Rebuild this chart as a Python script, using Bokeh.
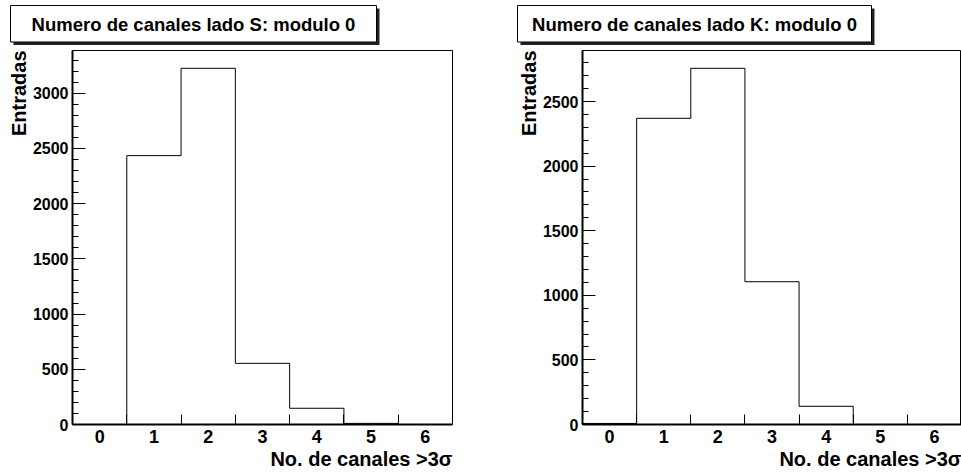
from bokeh.plotting import figure
from bokeh.layouts import row, column
from bokeh.models import Range1d, FixedTicker, SingleIntervalTicker, Title
from bokeh.core.properties import value
from bokeh.embed import file_html
from bokeh.resources import INLINE

# ---------------- data ----------------
bins = [0, 1, 2, 3, 4, 5, 6]
tick_labels = ["0", "1", "2", "3", "4", "5", "6"]
counts_s = [0, 2435, 3226, 554, 147, 10, 0]
counts_k = [8, 2370, 2757, 1105, 141, 0, 0]
title_s = "Numero de canales lado S: modulo 0"
title_k = "Numero de canales lado K: modulo 0"
xlabel = "No. de canales >3\u03c3"
ylabel = "Entradas"

FONT = "Liberation Sans"
TH = 46          # height of title strip
MH = 475 - TH    # height of main plots


def title_strip(width, title, box_l, box_r):
    t = figure(width=width, height=TH, output_backend="svg", toolbar_location=None,
               x_range=Range1d(0, width), y_range=Range1d(TH, 0),
               x_axis_type=None, y_axis_type=None, min_border=0)
    t.outline_line_color = None
    t.xgrid.visible = False
    t.ygrid.visible = False
    t.background_fill_color = "white"
    t.border_fill_color = "white"
    top, bot = 5, 41.5
    t.quad(left=[box_l + 3], right=[box_r + 3], top=[top + 3], bottom=[bot + 3],
           fill_color="#222222", line_color=None)
    t.quad(left=[box_l], right=[box_r], top=[top], bottom=[bot],
           fill_color="white", line_color="black", line_width=1)
    t.text(x=[(box_l + box_r) / 2], y=[(top + bot) / 2 + 1], text=[title],
           text_align="center", text_baseline="middle", text_font=value(FONT),
           text_font_style="bold", text_font_size="18.5px", text_color="black")
    return t


def make(counts, width, b_left, frame_w):
    ymax = max(counts) * 1.05
    p = figure(width=width, height=MH, output_backend="svg", toolbar_location=None,
               x_range=Range1d(-0.5, 6.5), y_range=Range1d(0, ymax),
               min_border_left=b_left, min_border_right=width - b_left - frame_w,
               min_border_top=50 - TH, min_border_bottom=MH - (50 - TH) - 374)
    p.background_fill_color = "white"
    p.border_fill_color = "white"
    p.outline_line_color = "black"
    p.outline_line_width = 1
    p.xgrid.visible = False
    p.ygrid.visible = False

    xa = p.xaxis[0]
    xa.ticker = FixedTicker(ticks=bins, minor_ticks=[b + 0.5 for b in bins[:-1]])
    xa.major_label_overrides = {b: t for b, t in zip(bins, tick_labels)}
    xa.major_tick_in = 0
    xa.major_tick_out = 0
    xa.minor_tick_in = 10
    xa.minor_tick_out = 0
    xa.minor_tick_line_color = "black"
    xa.axis_line_width = 2
    xa.axis_line_color = "black"
    xa.major_label_standoff = 5
    xa.major_label_text_font = FONT
    xa.major_label_text_font_style = "bold"
    xa.major_label_text_font_size = "18px"
    xa.major_label_text_color = "black"

    ya = p.yaxis[0]
    ya.ticker = SingleIntervalTicker(interval=500, num_minor_ticks=5)
    ya.major_tick_in = 13
    ya.major_tick_out = 0
    ya.minor_tick_in = 6
    ya.minor_tick_out = 0
    ya.major_tick_line_color = "black"
    ya.minor_tick_line_color = "black"
    ya.axis_line_width = 2
    ya.axis_line_color = "black"
    ya.major_label_standoff = 4
    ya.major_label_text_font = FONT
    ya.major_label_text_font_style = "bold"
    ya.major_label_text_font_size = "16px"
    ya.major_label_text_color = "black"

    p.add_layout(Title(text=xlabel, align="right", standoff=0, offset=0,
                       text_font=FONT, text_font_style="bold",
                       text_font_size="20px", text_color="black"), "below")
    p.add_layout(Title(text=ylabel, align="right", standoff=0, offset=0,
                       text_font=FONT, text_font_style="bold",
                       text_font_size="20px", text_color="black"), "left")

    edges = [b - 0.5 for b in bins] + [bins[-1] + 0.5]
    ys = list(counts) + [counts[-1]]
    p.step(edges, ys, mode="after", line_color="black", line_width=1)
    return p


t1 = title_strip(481, title_s, 10, 376)
t2 = title_strip(480, title_k, 36, 390)
p1 = make(counts_s, 481, 72, 380)
p2 = make(counts_k, 480, 101, 379)
layout = column(row(t1, t2, spacing=0), row(p1, p2, spacing=0), spacing=0)

open("out.html", "w").write(file_html(layout, INLINE))
